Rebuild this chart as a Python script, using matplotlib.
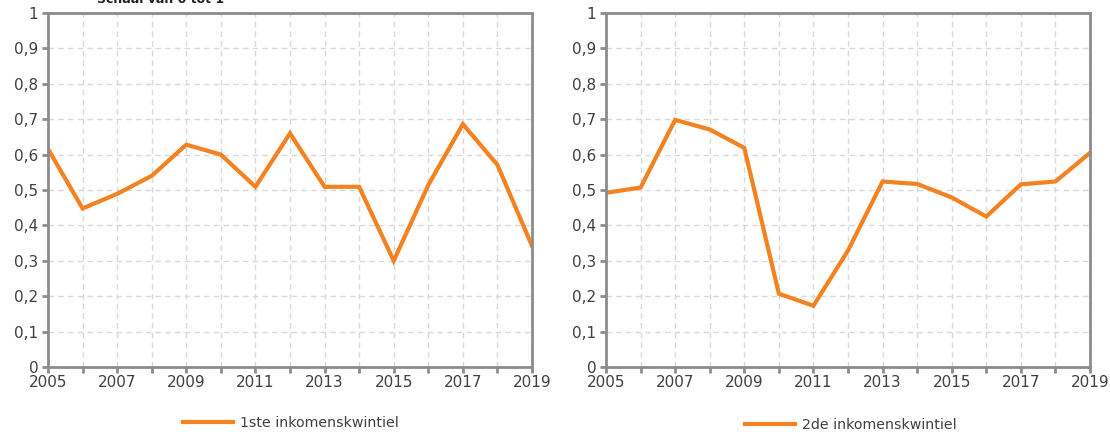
import matplotlib
matplotlib.use("Agg")
import matplotlib.pyplot as plt
from matplotlib.ticker import MultipleLocator, FuncFormatter, FixedLocator

years = list(range(2005, 2020))
kwintiel1 = [0.616, 0.448, 0.489, 0.540, 0.628, 0.600, 0.509, 0.660, 0.509, 0.509,
             0.300, 0.514, 0.686, 0.571, 0.342]
kwintiel2 = [0.492, 0.507, 0.698, 0.671, 0.619, 0.207, 0.173, 0.329, 0.524, 0.517,
             0.479, 0.425, 0.516, 0.524, 0.605]
labels = ["1ste inkomenskwintiel", "2de inkomenskwintiel"]
major_years = years[::2]
minor_years = years[1::2]

W, H = 1110, 432
fig = plt.figure(figsize=(W / 100, H / 100), dpi=100)
plt.rcParams['font.family'] = ['DejaVu Sans']

orange = "#F58220"
spine_c = "#8C8C8C"
text_c = "#404040"
grid_c = "#D9D9D9"

axes_px = [(48, 13, 484, 354), (606, 13, 484, 354)]
legend_pos = [(291, 423), (851, 425)]
series = [kwintiel1, kwintiel2]

for (x0, y0, w, h), vals, lab, (lx, ly) in zip(axes_px, series, labels, legend_pos):
    ax = fig.add_axes([x0 / W, (H - y0 - h) / H, w / W, h / H])
    line, = ax.plot(years, vals, color=orange, lw=3, solid_joinstyle='miter')
    ax.set_xlim(2005, 2019)
    ax.set_ylim(0, 1)
    ax.xaxis.set_major_locator(FixedLocator(major_years))
    ax.xaxis.set_minor_locator(FixedLocator(minor_years))
    ax.xaxis.set_major_formatter(FuncFormatter(lambda v, p: f"{int(round(v))}"))
    ax.yaxis.set_major_locator(MultipleLocator(0.1))
    ax.yaxis.set_major_formatter(FuncFormatter(
        lambda v, p: "0" if abs(v) < 1e-9 else ("1" if abs(v - 1) < 1e-9 else f"{v:.1f}".replace(".", ","))))
    ax.grid(True, which='both', axis='x', color=grid_c, ls=(0, (4, 3)), lw=1)
    ax.grid(True, which='major', axis='y', color=grid_c, ls=(0, (4, 3)), lw=1)
    ax.set_axisbelow(True)
    for s in ax.spines.values():
        s.set_color(spine_c)
        s.set_linewidth(2)
    ax.tick_params(axis='both', which='both', direction='out', color=spine_c,
                   width=2, length=4, labelcolor=text_c, labelsize=11)
    ax.tick_params(axis='x', which='major', pad=2)
    ax.tick_params(axis='y', which='major', pad=3)
    fig.legend([line], [lab], loc='center', bbox_to_anchor=(lx / W, 1 - ly / H),
               frameon=False, fontsize=10.2, handlelength=3.5, handletextpad=0.55,
               labelcolor=text_c)

fig.text(97 / W, 1 - 3 / H, "Schaal van 0 tot 1", fontsize=9, fontweight='bold',
         color="#202020", va='baseline', ha='left')

fig.savefig("out.png", dpi=100, facecolor='white')
